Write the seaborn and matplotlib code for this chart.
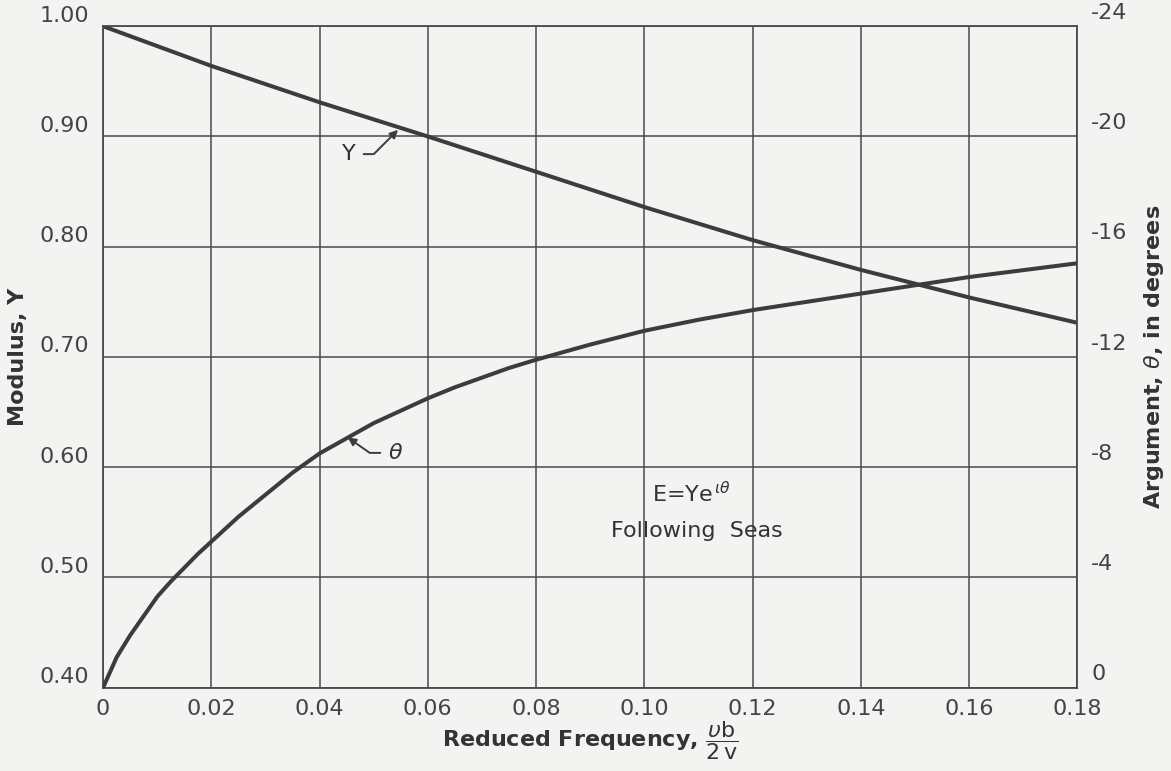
import numpy as np
import pandas as pd
import matplotlib
matplotlib.use("Agg")
import matplotlib.pyplot as plt
import matplotlib.transforms as mtransforms
import seaborn as sns

# ---- data ----
freq_Y = [0.0, 0.02, 0.04, 0.06, 0.08, 0.10, 0.12, 0.14, 0.16, 0.18]
modulus_Y = [1.000, 0.964, 0.931, 0.900, 0.868, 0.836, 0.806, 0.779, 0.754, 0.731]

freq_theta = [0.0, 0.0025, 0.005, 0.0075, 0.01, 0.0125, 0.015, 0.0175, 0.02,
              0.025, 0.03, 0.035, 0.04, 0.045, 0.05, 0.055, 0.06, 0.065, 0.07,
              0.075, 0.08, 0.09, 0.10, 0.11, 0.12, 0.13, 0.14, 0.15, 0.16,
              0.17, 0.18]
argument_theta = [0.0, -1.1, -1.9, -2.6, -3.3, -3.85, -4.35, -4.85, -5.3,
                  -6.2, -7.0, -7.8, -8.5, -9.05, -9.6, -10.05, -10.5, -10.9, -11.25,
                  -11.6, -11.9, -12.45, -12.95, -13.35, -13.7, -14.0, -14.3, -14.6,
                  -14.9, -15.15, -15.4]

x_ticks = [0, 0.02, 0.04, 0.06, 0.08, 0.10, 0.12, 0.14, 0.16, 0.18]
x_ticklabels = ["0", "0.02", "0.04", "0.06", "0.08", "0.10", "0.12", "0.14", "0.16", "0.18"]
left_ticks = [0.40, 0.50, 0.60, 0.70, 0.80, 0.90, 1.00]
left_ticklabels = ["0.40", "0.50", "0.60", "0.70", "0.80", "0.90", "1.00"]
right_ticks = [0, -4, -8, -12, -16, -20, -24]
right_ticklabels = ["0", "-4", "-8", "-12", "-16", "-20", "-24"]

sns.set_theme(style="white")
plt.rcParams["font.family"] = ["DejaVu Sans"]
plt.rcParams["axes.unicode_minus"] = False

ink = "#3c3c3c"
bg = "#f3f3f1"

fig = plt.figure(figsize=(11.71, 7.71), dpi=100, facecolor=bg)
ax = fig.add_axes([0.088, 0.108, 0.832, 0.858])
ax.set_facecolor(bg)

dfY = pd.DataFrame({"f": freq_Y, "Y": modulus_Y})
sns.lineplot(data=dfY, x="f", y="Y", ax=ax, color=ink, linewidth=2.9)

ax.set_xlim(0, 0.18)
ax.set_ylim(0.40, 1.00)
ax.set_xticks(x_ticks)
ax.set_xticklabels(x_ticklabels)
ax.set_yticks(left_ticks)
ax.set_yticklabels(left_ticklabels)
ax.grid(True, color="#4a4a4a", linewidth=1.1)
ax.set_axisbelow(True)
for s in ax.spines.values():
    s.set_color("#4a4a4a")
    s.set_linewidth(1.3)
ax.tick_params(axis="both", length=0, labelsize=16, colors="#444444")
ax.tick_params(axis="x", pad=8)
ax.tick_params(axis="y", pad=10)

ax2 = ax.twinx()
dfT = pd.DataFrame({"f": freq_theta, "theta": argument_theta})
sns.lineplot(data=dfT, x="f", y="theta", ax=ax2, color=ink, linewidth=2.9)
ax2.set_ylim(0, -24)
ax2.set_yticks(right_ticks)
ax2.set_yticklabels(right_ticklabels)
ax2.tick_params(axis="y", length=0, labelsize=16, colors="#444444", pad=10)
for s in ax2.spines.values():
    s.set_visible(False)

# raise tick labels a little, as in the reference
off = mtransforms.ScaledTranslation(0, 9 / 72, fig.dpi_scale_trans)
for lab in ax.get_yticklabels():
    lab.set_transform(lab.get_transform() + off)
off2 = mtransforms.ScaledTranslation(0, 11 / 72, fig.dpi_scale_trans)
for lab in ax2.get_yticklabels():
    lab.set_transform(lab.get_transform() + off2)

ax.set_xlabel(r"Reduced Frequency, $\dfrac{\upsilon\mathsf{b}}{\mathsf{2\,v}}$",
              fontsize=16, fontweight="bold", color="#333333", labelpad=0)
ax.set_ylabel("Modulus, Y", fontsize=16, fontweight="bold", color="#333333", labelpad=8)
ax2.set_ylabel(r"Argument, $\theta$, in degrees", fontsize=16, fontweight="bold",
               color="#333333", labelpad=10)
ax2.set_xlabel("")

# curve labels with leaders
ax.annotate("Y", xy=(0.0545, 0.906), xytext=(0.0455, 0.884),
            fontsize=16, color="#333333", ha="center", va="center",
            arrowprops=dict(arrowstyle="-|>", color=ink, lw=1.4, mutation_scale=12,
                            shrinkA=3, shrinkB=0,
                            connectionstyle="angle,angleA=0,angleB=-135,rad=0"))
ax.annotate(r"$\theta$", xy=(0.0452, 0.627), xytext=(0.0540, 0.613),
            fontsize=16, color="#333333", ha="center", va="center",
            arrowprops=dict(arrowstyle="-|>", color=ink, lw=1.4, mutation_scale=12,
                            shrinkA=3, shrinkB=0,
                            connectionstyle="angle,angleA=180,angleB=-35,rad=0"))

ax.text(0.1088, 0.576, r"E=Ye$^{\,\iota\theta}$", fontsize=16, color="#333333",
        ha="center", va="center")
ax.text(0.1098, 0.542, "Following  Seas", fontsize=16, color="#333333",
        ha="center", va="center")

fig.savefig("out.png", dpi=100, facecolor=bg)
